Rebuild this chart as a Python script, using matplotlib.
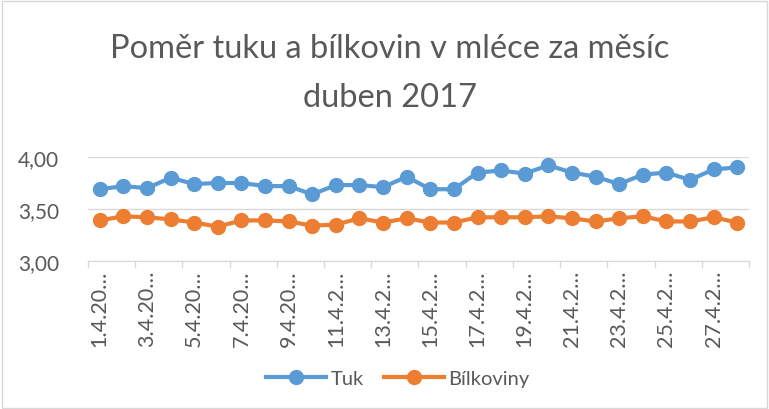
"""Poměr tuku a bílkovin v mléce, duben 2017 (Excel-style line chart)."""

import matplotlib

matplotlib.use("Agg")
import matplotlib.pyplot as plt  # noqa: E402
from matplotlib.patches import Rectangle  # noqa: E402

TITLE = "Poměr tuku a bílkovin v mléce za měsíc\nduben 2017"

DAYS = [f"{d}.4.2017" for d in range(1, 29)]
# Excel truncates the rotated labels; only every second one is shown
TICK_LABELS = ["1.4.20…", "3.4.20…", "5.4.20…", "7.4.20…", "9.4.20…",
               "11.4.2…", "13.4.2…", "15.4.2…", "17.4.2…", "19.4.2…",
               "21.4.2…", "23.4.2…", "25.4.2…", "27.4.2…"]

TUK = [3.69, 3.72, 3.70, 3.80, 3.74, 3.75, 3.75, 3.72, 3.72, 3.64,
       3.73, 3.73, 3.71, 3.81, 3.69, 3.69, 3.85, 3.87, 3.84, 3.92,
       3.85, 3.81, 3.74, 3.83, 3.85, 3.78, 3.88, 3.90]
BILKOVINY = [3.39, 3.43, 3.42, 3.40, 3.37, 3.33, 3.39, 3.39, 3.38, 3.34,
             3.35, 3.41, 3.37, 3.41, 3.37, 3.37, 3.42, 3.42, 3.42, 3.43,
             3.41, 3.38, 3.41, 3.43, 3.38, 3.38, 3.42, 3.37]

Y_TICKS = [3.0, 3.5, 4.0]
Y_LABELS = ["3,00", "3,50", "4,00"]

BLUE = "#5B9BD5"
ORANGE = "#ED7D31"
TEXT = "#595959"

plt.rcParams["font.family"] = ["Lato", "DejaVu Sans"]

fig = plt.figure(figsize=(7.69, 4.10), dpi=100)
ax = fig.add_axes([0.1144, 0.361, 0.8596, 0.2537])

x = list(range(len(DAYS)))
ax.plot(x, TUK, color=BLUE, linewidth=3, marker="o", markersize=10, label="Tuk")
ax.plot(x, BILKOVINY, color=ORANGE, linewidth=3, marker="o", markersize=10,
        label="Bílkoviny")

ax.set_xlim(-0.5, len(DAYS) - 0.5)
ax.set_ylim(3.0, 4.0)
ax.set_yticks(Y_TICKS)
ax.set_yticklabels(Y_LABELS, fontsize=15, color=TEXT)
ax.tick_params(axis="y", length=0, pad=21)

# tick marks sit on category boundaries, labels under every second point
ax.set_xticks([i - 0.5 for i in range(0, len(DAYS) + 1, 2)])
ax.set_xticklabels([])
ax.tick_params(axis="x", which="major", length=5, color="#d9d9d9", width=1)
ax.set_xticks(list(range(0, len(DAYS), 2)), minor=True)
ax.set_xticklabels(TICK_LABELS, minor=True, rotation=90, fontsize=15.5,
                   color=TEXT)
ax.tick_params(axis="x", which="minor", length=0, pad=6)

ax.grid(axis="y", color="#d9d9d9", linewidth=1)
ax.set_axisbelow(True)
for side in ("top", "right", "left"):
    ax.spines[side].set_visible(False)
ax.spines["bottom"].set_color("#d9d9d9")
ax.spines["bottom"].set_zorder(0.5)

fig.text(0.507, 0.82, TITLE, ha="center", va="center", fontsize=23.5,
         color=TEXT, linespacing=1.8)

fig.legend(loc="center", bbox_to_anchor=(0.517, 0.075), ncol=2, frameon=False,
           fontsize=14.5, labelcolor=TEXT, handlelength=3.0, columnspacing=1.0,
           handletextpad=0.2)

fig.patches.append(Rectangle((0.002, 0.002), 0.995, 0.994, transform=fig.transFigure,
                             fill=False, edgecolor="#d9d9d9", linewidth=1))

fig.savefig("out.png", dpi=100)
